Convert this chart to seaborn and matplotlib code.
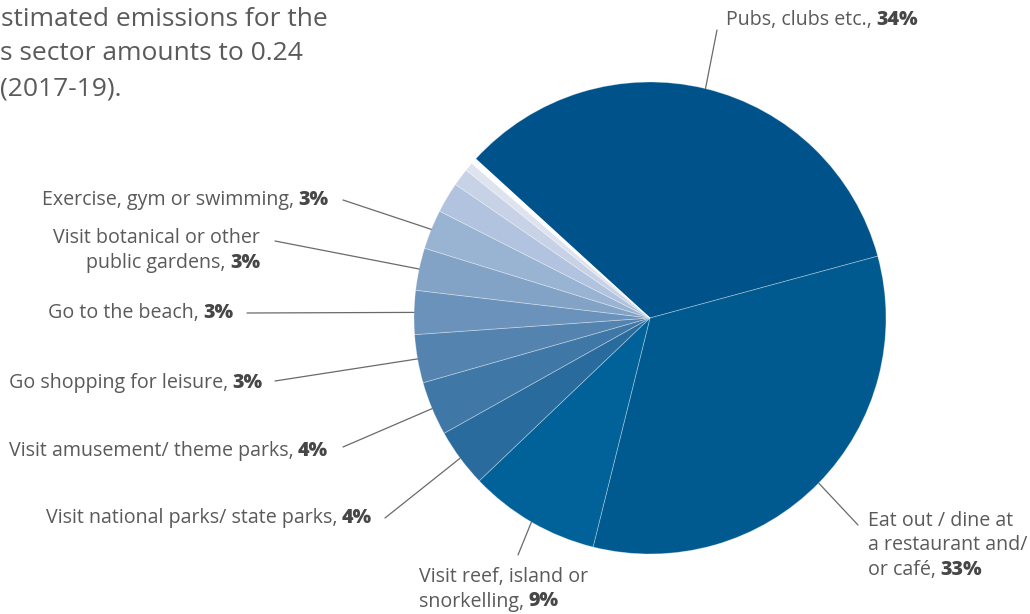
import matplotlib
matplotlib.use("Agg")
import matplotlib.pyplot as plt
import seaborn as sns
import numpy as np

# ---- data ----
categories = ["Pubs, clubs etc.", "Eat out / dine at a restaurant and/ or café",
              "Visit reef, island or snorkelling", "Visit national parks/ state parks",
              "Visit amusement/ theme parks", "Go shopping for leisure", "Go to the beach",
              "Visit botanical or other public gardens", "Exercise, gym or swimming",
              "Other 1", "Other 2", "Other 3", "Other 4"]
values = [34.0, 33.1, 9.0, 4.0, 3.7, 3.3, 3.0, 2.9, 2.7, 2.1, 1.2, 0.6, 0.4]
pct_labels = ["34%", "33%", "9%", "4%", "4%", "3%", "3%", "3%", "3%", None, None, None, None]
label_lines = [["Pubs, clubs etc.,"],
               ["Eat out / dine at", "a restaurant and/", "or café,"],
               ["Visit reef, island or", "snorkelling,"],
               ["Visit national parks/ state parks,"],
               ["Visit amusement/ theme parks,"],
               ["Go shopping for leisure,"],
               ["Go to the beach,"],
               ["Visit botanical or other", "public gardens,"],
               ["Exercise, gym or swimming,"]]
colors = ["#00528a", "#005a8f", "#006298", "#2a6b9e", "#3f77a6", "#5583b0",
          "#6b92bb", "#82a3c6", "#99b3d2", "#b1c3de", "#c7d2e6", "#dfe3ef", "#ffffff"]
title_lines = ["stimated emissions for the", "s sector amounts to 0.24", "(2017-19)."]

sns.set_theme(style="white")
plt.rcParams["font.family"] = ["Open Sans", "DejaVu Sans"]

W, H = 1030, 614
fig = plt.figure(figsize=(W / 100, H / 100), dpi=100)
cx, cy, R = 650, 318, 236
ax = fig.add_axes([(cx - R) / W, (H - cy - R) / H, 2 * R / W, 2 * R / H])
wedges, _ = ax.pie(values, colors=colors, startangle=137.6, counterclock=False,
                   radius=1.0, wedgeprops=dict(edgecolor=(1, 1, 1, 0.35), linewidth=0.6))
ax.set_xlim(-1, 1)
ax.set_ylim(-1, 1)
ax.set_aspect("equal")
ax.axis("off")

renderer = fig.canvas.get_renderer()
TXT = "#5a5a5a"
BOLD = "#474747"
FS = 14.1


def fx(x):
    return x / W


def fy(y):
    return 1 - y / H


def text_width(t):
    bb = t.get_window_extent(renderer=renderer)
    return bb.width


def put_label(lines, pct, x, y0, ha, dy=24.5):
    for i, line in enumerate(lines):
        y = y0 + i * dy
        last = i == len(lines) - 1
        if ha == "right":
            if last:
                tb = fig.text(fx(x), fy(y), pct, ha="right", va="center", fontsize=FS,
                              fontweight="heavy", color=BOLD)
                w = text_width(tb)
                fig.text(fx(x - w - 4), fy(y), line, ha="right", va="center",
                         fontsize=FS, color=TXT)
            else:
                fig.text(fx(x), fy(y), line, ha="right", va="center", fontsize=FS, color=TXT)
        else:
            tn = fig.text(fx(x), fy(y), line, ha="left", va="center", fontsize=FS, color=TXT)
            if last:
                w = text_width(tn)
                fig.text(fx(x + w + 4), fy(y), pct, ha="left", va="center", fontsize=FS,
                         fontweight="heavy", color=BOLD)


# label layout: (leader end x, y), (text x, first line y), alignment
layout = [((717, 30), (726, 20), "left"),
          ((858, 525), (868, 521), "left"),
          ((518, 555), (419, 577), "left"),
          ((385, 518), (372, 518), "right"),
          ((343, 447), (328, 451), "right"),
          ((275, 381), (262, 383), "right"),
          ((247, 313), (233, 313), "right"),
          ((275, 241), (260, 238), "right"),
          ((343, 200), (328, 200), "right")]

for i, (lend, tpos, ha) in enumerate(layout):
    w = wedges[i]
    mid = np.deg2rad((w.theta1 + w.theta2) / 2)
    ax.annotate("", xy=(np.cos(mid), np.sin(mid)), xycoords="data",
                xytext=(lend[0], H - lend[1]), textcoords="figure pixels",
                arrowprops=dict(arrowstyle="-", color="#6a6a6a", lw=0.9,
                                shrinkA=0, shrinkB=0), annotation_clip=False)
    put_label(label_lines[i], pct_labels[i], tpos[0], tpos[1], ha)

# partial title text at top left
title_x = [1, 0, 0]
for i, t in enumerate(title_lines):
    fig.text(fx(title_x[i]), fy(19 + i * 35), t, ha="left", va="center",
             fontsize=19, color="#5a5a5a")

fig.savefig("out.png", dpi=100)
